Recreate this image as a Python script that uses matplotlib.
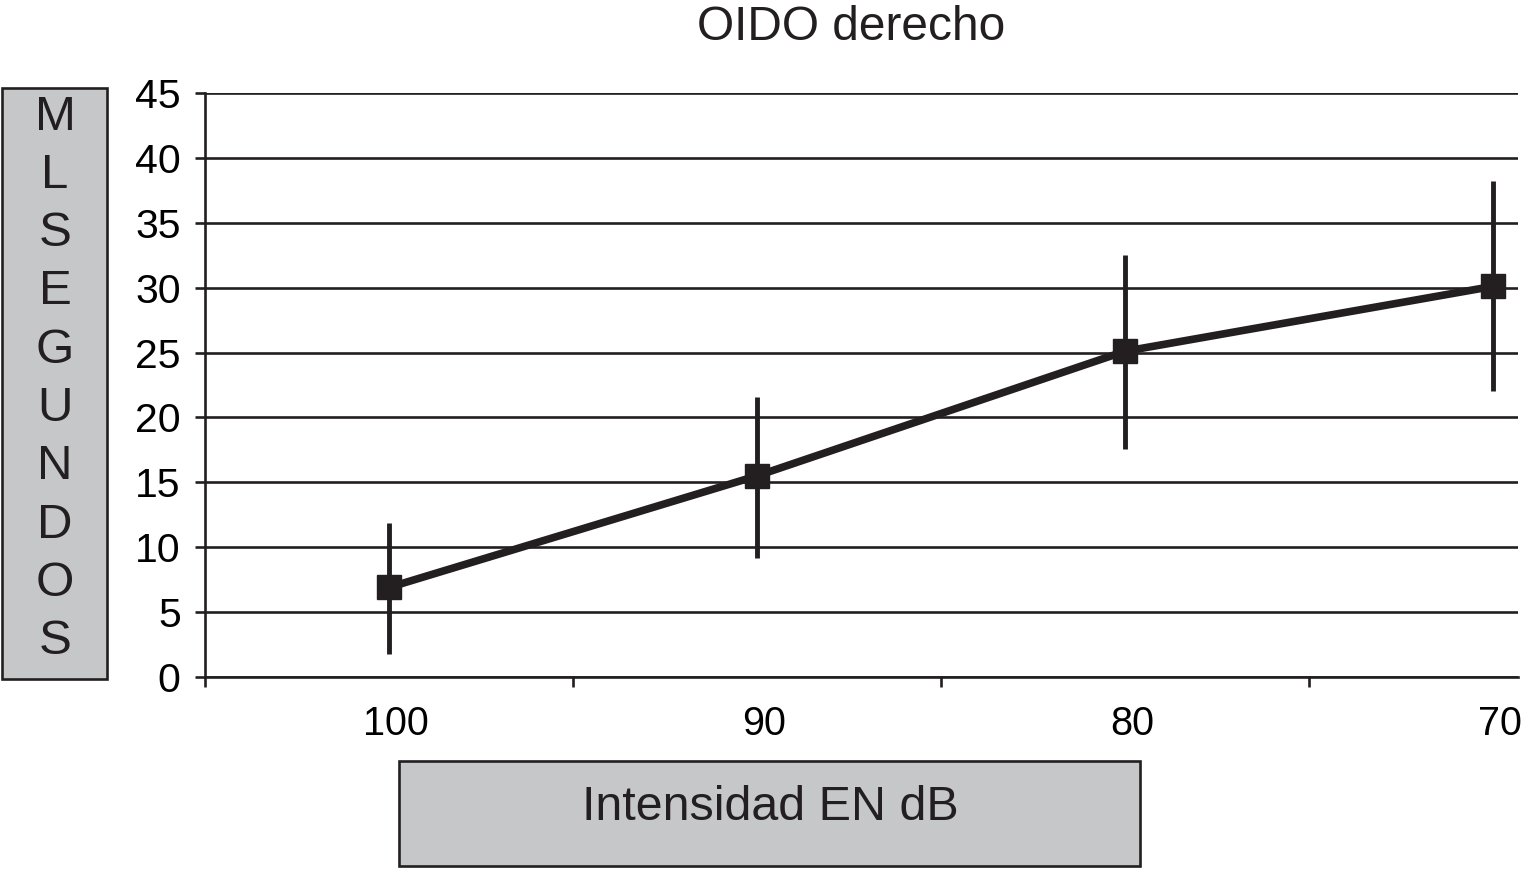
"""OIDO derecho - latency vs intensity"""
import matplotlib.pyplot as plt
import matplotlib.patches as patches
import numpy as np

plt.rcParams['font.family'] = ['Liberation Sans', 'DejaVu Sans']

# Data
categories = ['100', '90', '80', '70']
means = [6.9, 15.5, 25.1, 30.1]
err_low = [1.8, 9.2, 17.6, 22.0]
err_high = [11.9, 21.6, 32.5, 38.2]

W, H = 1522, 869
fig = plt.figure(figsize=(W / 100, H / 100), dpi=100)
ax = fig.add_axes([205 / W, 1 - 677 / H, (1518 - 205) / W, (677 - 93) / H])

x = np.arange(len(categories))
means = np.array(means)
yerr = [means - np.array(err_low), np.array(err_high) - means]

# error bars and line
ax.errorbar(x, means, yerr=yerr, fmt='none', ecolor='#231f20',
            elinewidth=3.5, capsize=0, zorder=3)
ax.plot(x, means, color='#231f20', lw=5.5, marker='s', markersize=17,
        zorder=4)

# Formatting
ax.set_ylim(0, 45)
ax.set_xlim(-0.5, 3.068)
ax.set_yticks(np.arange(0, 46, 5))
ax.yaxis.grid(True, color='#231f20', lw=1.9)
ax.set_axisbelow(True)

ax.set_xticks([-0.5, 0.5, 1.5, 2.5])
ax.set_xticklabels([])
ax.set_xticks(x + 0.02, minor=True)
ax.set_xticklabels(categories, minor=True)
ax.tick_params(axis='x', which='major', length=7.5, width=1.9,
               color='#231f20')
ax.tick_params(axis='x', which='minor', length=0, pad=20, labelsize=28.5)
ax.tick_params(axis='y', length=7.5, width=1.9, color='#231f20',
               pad=10, labelsize=29.5)

for s in ['top', 'right']:
    ax.spines[s].set_visible(False)
for s in ['left', 'bottom']:
    ax.spines[s].set_linewidth(1.9)
    ax.spines[s].set_color('#231f20')

# Title
fig.text(851 / W, 1 - 28 / H, 'OIDO derecho', ha='center', va='center',
         fontsize=34.5, color='#231f20')

# Y label box with stacked letters
ybox = patches.Rectangle((2 / W, 1 - 679 / H), 105 / W, 591 / H,
                         transform=fig.transFigure, facecolor='#c6c7c9',
                         edgecolor='#231f20', linewidth=1.9)
fig.patches.append(ybox)
letters = 'MLSEGUNDOS'
for i, ch in enumerate(letters):
    fig.text(55 / W, 1 - (117 + i * 58.3) / H, ch, ha='center',
             va='center', fontsize=35.5, color='#231f20')

# X label box
xbox = patches.Rectangle((399 / W, 1 - 866 / H), 741 / W, 105 / H,
                         transform=fig.transFigure, facecolor='#c6c7c9',
                         edgecolor='#231f20', linewidth=1.9)
fig.patches.append(xbox)
fig.text(770 / W, 1 - 808 / H, 'Intensidad EN dB', ha='center',
         va='center', fontsize=34.8, color='#231f20')

plt.savefig('out.png', dpi=100)
plt.close()
